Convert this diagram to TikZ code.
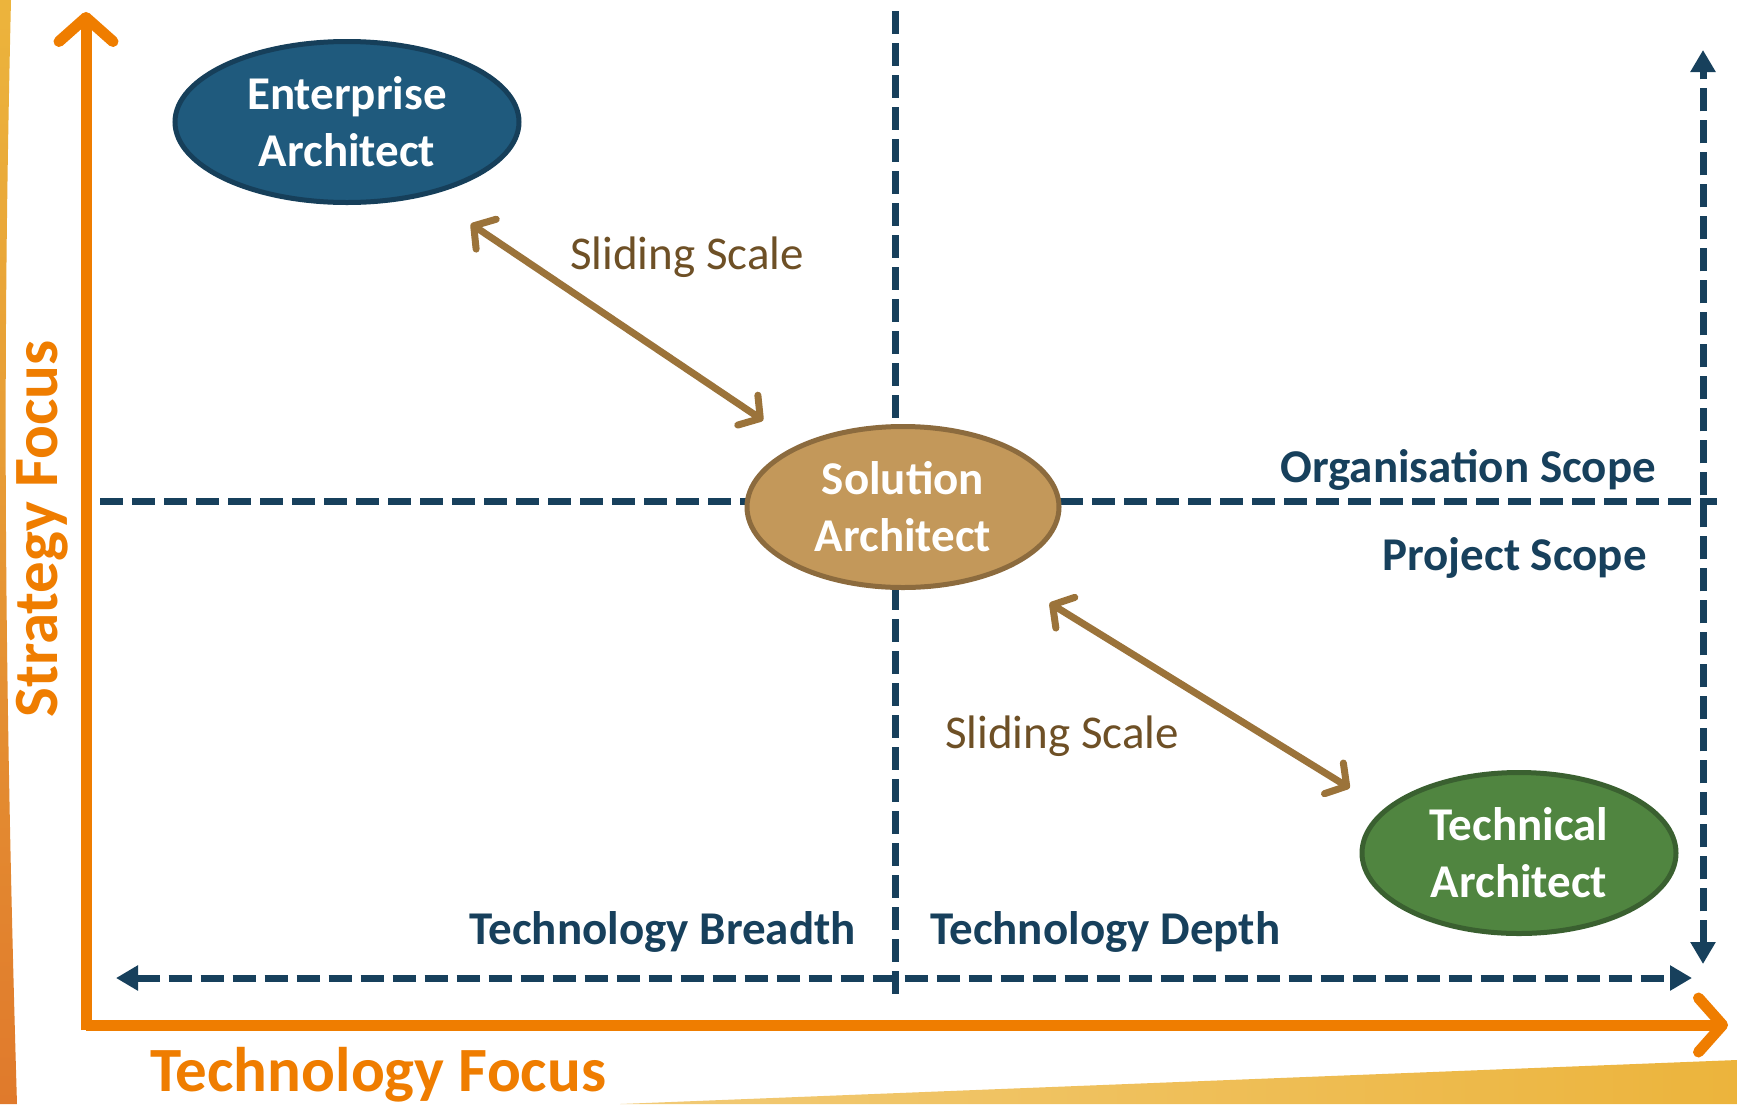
\documentclass[tikz,border=0pt]{standalone}
\usepackage{fontspec}
\setmainfont{Carlito}
\setsansfont{Carlito}
\usetikzlibrary{arrows.meta}
\usetikzlibrary{positioning}
\usetikzlibrary{shapes.geometric}
\definecolor{axisorange}{HTML}{EF7D00}
\definecolor{scopeblue}{HTML}{17405C}
\definecolor{entblue}{HTML}{1F5A7D}
\definecolor{entline}{HTML}{163F5A}
\definecolor{solbrown}{HTML}{C3985A}
\definecolor{solline}{HTML}{8C6B3E}
\definecolor{techgreen}{HTML}{508540}
\definecolor{techline}{HTML}{3A6030}
\definecolor{slidebrown}{HTML}{9B733A}
\definecolor{slidetext}{HTML}{6E5026}
\definecolor{bandyellow}{HTML}{ECB43C}
\definecolor{bandorange}{HTML}{E07A2C}
\tikzset{
	role/.style={
		ellipse,
		line width=5pt,
		text=white,
		font=\sffamily\bfseries\fontsize{47}{57}\selectfont,
		align=center,
		inner sep=0pt,
		minimum height=161pt},
	scopelabel/.style={text=scopeblue, inner sep=0pt, font=\sffamily\bfseries\fontsize{47}{57}\selectfont},
	slidelabel/.style={text=slidetext, inner sep=0pt, font=\sffamily\fontsize{47}{57}\selectfont},
	focuslabel/.style={text=axisorange, inner sep=0pt, font=\sffamily\bfseries\fontsize{63}{75}\selectfont},
	divider/.style={draw=scopeblue, line width=7pt, dash pattern=on 23pt off 9pt},
	scopearrow/.style={divider, {Triangle[length=22pt,width=24pt]}-{Triangle[length=22pt,width=24pt]}},
	focusaxis/.style={draw=axisorange, line width=11pt, -{Straight Barb[length=24pt,width=54pt,round]}},
	slide/.style={draw=slidebrown, line width=7pt, {Straight Barb[length=15pt,width=36pt,round]}-{Straight Barb[length=15pt,width=36pt,round]}},
}
\begin{document}
\begin{tikzpicture}[x=1pt, y=-1pt, font=\sffamily]
	\useasboundingbox (0,0) rectangle (1737,1104);
	% backdrop
	\fill[white] (0,0) rectangle (1737,1104);
	\shade[top color=bandyellow, bottom color=bandorange] (0,0) -- (11,0) .. controls (4,300) and (2,600) .. (17,1104) -- (0,1104) -- cycle;
	\shade[left color=bandyellow!70, right color=bandyellow] (620,1104) -- (1737,1060) -- (1737,1104) -- cycle;

	% quadrants
	\coordinate (hleft) at (100,501);
	\coordinate (hright) at (1717,501);
	\coordinate (vtop) at (895,11);
	\coordinate (vbottom) at (895,994);
	\draw[divider] (hleft) -- (hright);
	\draw[divider] (vtop) -- (vbottom);
	\coordinate (breadthend) at (116,978);
	\coordinate (depthend) at (1692,978);
	\coordinate (orgend) at (1703,50);
	\coordinate (projend) at (1703,964);
	\draw[scopearrow] (breadthend) -- (depthend);
	\draw[scopearrow] (projend) -- (orgend);

	% axes
	\coordinate (origin) at (86,1025);
	\coordinate (ytop) at (86,12);
	\coordinate (xend) at (1728,1025);
	\draw[focusaxis] (86,1030) -- (ytop);
	\draw[focusaxis] (origin) -- (xend);

	\node[role, fill=entblue, draw=entline, minimum width=344pt] (enterprise) at (347,122) {Enterprise\\Architect};
	\node[role, fill=solbrown, draw=solline, minimum width=312pt] (solution) at (903,507) {Solution\\Architect};
	\node[role, fill=techgreen, draw=techline, minimum width=314pt] (technical) at (1519,853) {Technical\\Architect};

	\draw[slide, shorten <=51pt, shorten >=43pt] (enterprise.-42.5) -- (solution.149.6);
	\draw[slide, shorten <=58pt, shorten >=40pt] (solution.-34.5) -- (technical.162.6);

	\node[slidelabel, anchor=base west] (slidetop) at (570,269) {Sliding Scale};
	\node[slidelabel, anchor=base west] (slidebottom) at (945,748) {Sliding Scale};
	\node[scopelabel, anchor=base east] (orgscope) at (1656,482) {Organisation Scope};
	\node[scopelabel, anchor=base east] (projscope) at (1647,570) {Project Scope};
	\node[scopelabel, anchor=base east] (breadth) at (856,944) {Technology Breadth};
	\node[scopelabel, anchor=base west] (depth) at (930,944) {Technology Depth};
	\node[focuslabel, anchor=base west] (techfocus) at (150,1091) {Technology Focus};
	\node[focuslabel, rotate=90, anchor=base] (stratfocus) at (57,529) {Strategy Focus};
\end{tikzpicture}
\end{document}
